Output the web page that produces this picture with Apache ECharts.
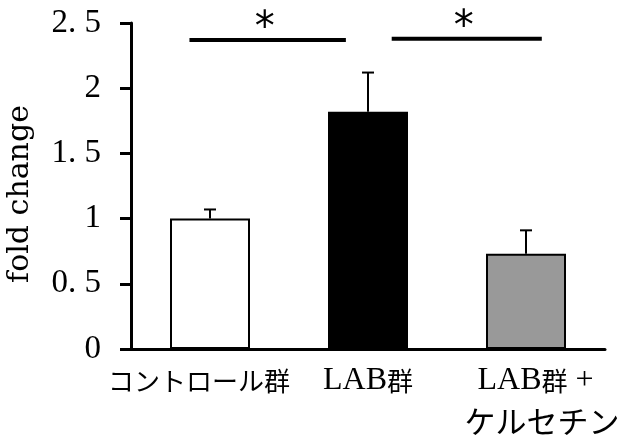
<!DOCTYPE html>
<html>
<head>
<meta charset="utf-8">
<script src="https://cdn.jsdelivr.net/npm/echarts@6/dist/echarts.min.js"></script>
<style>
html,body{margin:0;padding:0;background:#fff;}
#chart{width:621px;height:441px;}
</style>
</head>
<body>
<div id="chart"></div>
<script>
// ---- data ----
var categories = ['コントロール群', 'LAB群', 'LAB群 +\nケルセチン'];
var foldChange = [1.0, 1.82, 0.73];
var errorSD = [0.07, 0.30, 0.18];
var barColors = ['#ffffff', '#000000', '#999999'];
var yTickLabels = ['0', '0. 5', '1', '1. 5', '2', '2. 5'];
// significance brackets: from / to positions on the category scale, height, mark
var sigFrom = [-0.13, 1.15];
var sigTo = [0.86, 2.10];
var sigLevel = [2.37, 2.38];
var sigMark = ['*', '*'];

var serif = '"Liberation Serif", "Noto Sans CJK JP", serif';
var cjk = '"Noto Sans CJK JP", sans-serif';

var chart = echarts.init(document.getElementById('chart'), null, {renderer: 'canvas'});

var barData = foldChange.map(function (v, i) {
  return {
    value: v,
    itemStyle: {
      color: barColors[i],
      borderColor: '#000',
      borderWidth: i === 1 ? 0 : 2
    }
  };
});

var errData = foldChange.map(function (v, i) { return [i, v, v + errorSD[i]]; });
var sigData = sigFrom.map(function (f, i) { return [f, sigTo[i], sigLevel[i], sigMark[i]]; });

// split a label into latin / CJK runs for rich text
function richRuns(s, latinStyle, cjkStyle) {
  var out = '';
  var re = /([\u3000-\u9fff\uff00-\uffef]+)|([^\u3000-\u9fff\uff00-\uffef]+)/g;
  var m;
  while ((m = re.exec(s)) !== null) {
    if (m[1]) out += '{' + cjkStyle + '|' + m[1] + '}';
    else out += '{' + latinStyle + '|' + m[2] + '}';
  }
  return out;
}

var option = {
  backgroundColor: '#fff',
  animation: false,
  grid: {left: 131, right: 16, top: 23, bottom: 92, containLabel: false, outerBoundsMode: 'none'},
  xAxis: [{
    type: 'category',
    data: categories,
    axisLine: {show: true, onZero: false, lineStyle: {color: '#000', width: 3}},
    axisTick: {show: false},
    axisLabel: {
      interval: 0,
      color: '#000',
      fontFamily: serif,
      fontSize: 26,
      margin: 12,
      lineHeight: 40,
      formatter: function (v, i) {
        if (i === 0) return '{pa|}' + richRuns(v, 'l', 'k') + '{pb|}';
        if (i === 2) {
          var lines = v.split('\n');
          return '{pc|}' + richRuns(lines[0], 'l', 'k') + '\n{pd|}' + richRuns(lines[1], 'l', 'k2');
        }
        return richRuns(v, 'l', 'k');
      },
      rich: {
        l: {fontFamily: '"Liberation Serif", serif', fontSize: 32, color: '#000', lineHeight: 40},
        k: {fontFamily: cjk, fontSize: 26, color: '#000', lineHeight: 40},
        k2: {fontFamily: cjk, fontSize: 31, color: '#000', lineHeight: 40},
        pa: {width: 0},
        pb: {width: 22},
        pc: {width: 19},
        pd: {width: 32}
      }
    },
    splitLine: {show: false}
  }, {
    type: 'value',
    min: -0.5,
    max: 2.5,
    show: false
  }],
  yAxis: {
    type: 'value',
    min: 0,
    max: 2.5,
    interval: 0.5,
    name: 'fold change',
    nameLocation: 'middle',
    nameGap: 96,
    nameRotate: 90,
    nameTextStyle: {color: '#000', fontFamily: '"DejaVu Serif", serif', fontSize: 30, padding: [0, 16, 0, 0]},
    axisLine: {show: true, onZero: false, lineStyle: {color: '#000', width: 3}},
    axisTick: {show: true, inside: false, length: 11, lineStyle: {color: '#000', width: 3}},
    axisLabel: {
      color: '#000',
      fontFamily: '"Liberation Serif", serif',
      fontSize: 33,
      margin: 30,
      formatter: function (v) {
        var idx = Math.round(v / 0.5);
        return yTickLabels[idx];
      }
    },
    splitLine: {show: false}
  },
  series: [{
    type: 'bar',
    data: barData,
    barWidth: 80,
    z: 2
  }, {
    type: 'custom',
    data: errData,
    z: 3,
    renderItem: function (params, api) {
      var x = api.value(0);
      var lo = api.coord([x, api.value(1)]);
      var hi = api.coord([x, api.value(2)]);
      var cap = 6;
      return {
        type: 'group',
        children: [{
          type: 'line',
          shape: {x1: lo[0], y1: lo[1], x2: hi[0], y2: hi[1]},
          style: {stroke: '#000', lineWidth: 2}
        }, {
          type: 'line',
          shape: {x1: hi[0] - cap, y1: hi[1], x2: hi[0] + cap, y2: hi[1]},
          style: {stroke: '#000', lineWidth: 2}
        }]
      };
    }
  }, {
    type: 'custom',
    xAxisIndex: 1,
    data: sigData,
    z: 3,
    clip: false,
    renderItem: function (params, api) {
      var p1 = api.coord([api.value(0), api.value(2)]);
      var p2 = api.coord([api.value(1), api.value(2)]);
      var mark = sigMark[params.dataIndex];
      return {
        type: 'group',
        children: [{
          type: 'line',
          shape: {x1: p1[0], y1: p1[1], x2: p2[0], y2: p2[1]},
          style: {stroke: '#000', lineWidth: 4}
        }, {
          type: 'text',
          x: (p1[0] + p2[0]) / 2 - 3,
          y: p1[1] + 10,
          style: {
            text: mark,
            fill: '#000',
            font: '40px "DejaVu Sans", sans-serif',
            textAlign: 'center',
            textVerticalAlign: 'bottom'
          }
        }]
      };
    }
  }]
};

chart.setOption(option);
</script>
</body>
</html>
